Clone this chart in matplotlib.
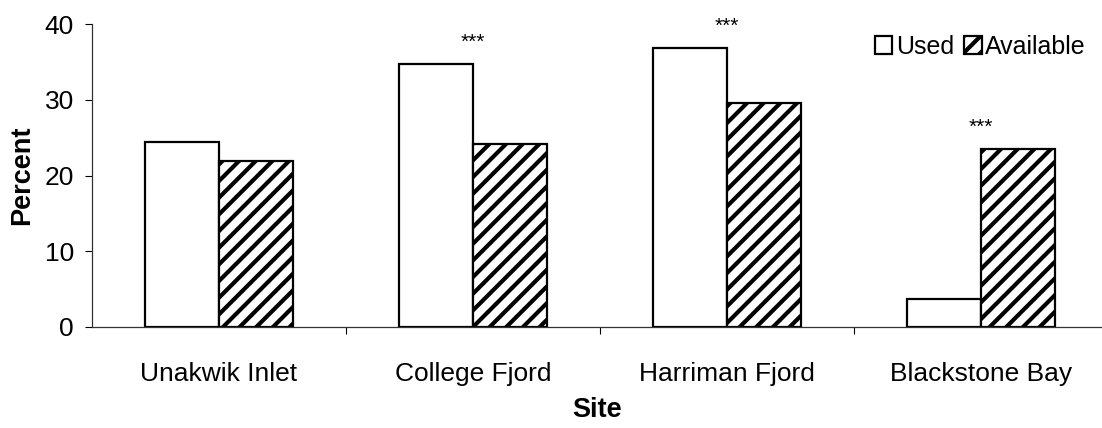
import numpy as np
import matplotlib
matplotlib.use("Agg")
import matplotlib.pyplot as plt

# Data
sites = ["Unakwik Inlet", "College Fjord", "Harriman Fjord", "Blackstone Bay"]
used = [24.4, 34.7, 36.8, 3.7]
available = [21.9, 24.2, 29.6, 23.5]
stars = ["", "***", "***", "***"]

plt.rcParams["font.family"] = ["Liberation Sans", "DejaVu Sans"]
plt.rcParams["hatch.linewidth"] = 3.0

fig = plt.figure(figsize=(11.02, 4.28), dpi=100)
ax = fig.add_axes([92 / 1102, 1 - 327 / 428, 1010 / 1102, 303 / 428])

x = np.arange(len(sites))
w = 0.29
ax.bar(x - w / 2, used, w, color="white", edgecolor="black", linewidth=1.6, label="Used")
ax.bar(x + w / 2, available, w, color="white", edgecolor="black", linewidth=1.6,
       hatch="//", label="Available")

# significance marks above the groups
for xi, s, u, a in zip(x, stars, used, available):
    if s:
        ax.text(xi, max(u, a) + 2.9, s, ha="center", va="center", fontsize=15)

ax.set_xlim(-0.5, 3.476)
ax.set_ylim(0, 40)
ax.set_yticks([0, 10, 20, 30, 40])
ax.set_xticks(x)
ax.set_xticklabels(sites)
ax.set_xticks(np.arange(0.5, 3.5, 1), minor=True)
ax.tick_params(axis="x", which="major", length=0, pad=25, labelsize=19)
ax.tick_params(axis="x", which="minor", length=5, width=0.8, direction="out")
ax.tick_params(axis="y", length=5, width=0.8, pad=8, labelsize=19)

for side in ["top", "right"]:
    ax.spines[side].set_visible(False)
for side in ["left", "bottom"]:
    ax.spines[side].set_linewidth(0.9)
    ax.spines[side].set_color("#333333")

ax.set_ylabel("Percent", fontsize=19.5, fontweight="bold", labelpad=6.5)
ax.set_xlabel("Site", fontsize=19.5, fontweight="bold", labelpad=8)

ax.legend(loc="center left", bbox_to_anchor=(0.775, 0.925), ncol=2, frameon=False,
          fontsize=18, handlelength=0.7, handleheight=0.7, handletextpad=0.15,
          columnspacing=0.4, borderpad=0, borderaxespad=0)

fig.savefig("out.png", dpi=100)
